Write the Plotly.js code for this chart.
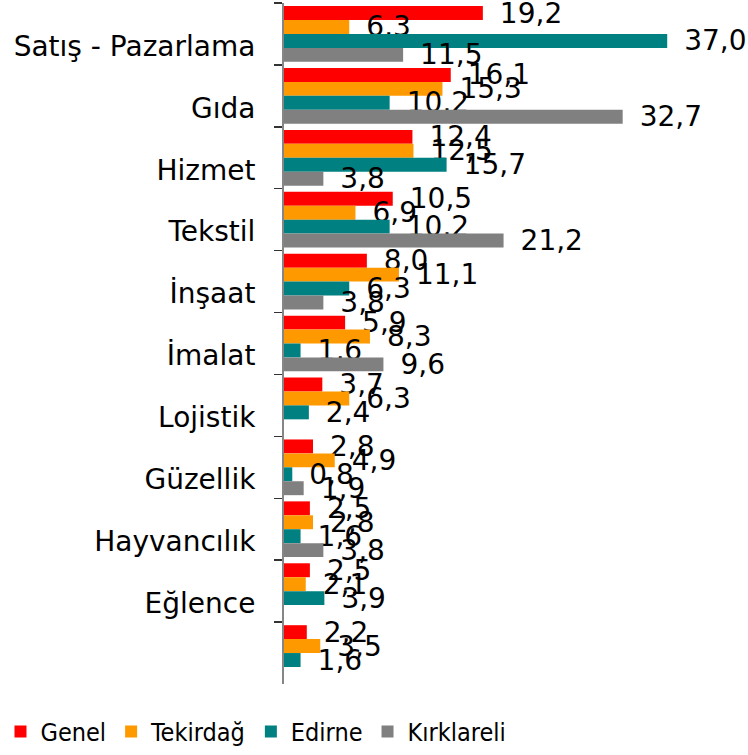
<!DOCTYPE html>
<html>
<head>
<meta charset="utf-8">
<script src="https://cdn.plot.ly/plotly-3.0.1.min.js"></script>
<style>html,body{margin:0;padding:0;background:#fff;}#chart{width:748px;height:755px;}</style>
</head>
<body>
<div id="chart"></div>
<script>
const categories = ["Satış - Pazarlama", "Gıda", "Hizmet", "Tekstil", "İnşaat", "İmalat", "Lojistik", "Güzellik", "Hayvancılık", "Eğlence", "\u00A0"];
const genel      = [19.2, 16.1, 12.4, 10.5, 8.0, 5.9, 3.7, 2.8, 2.5, 2.5, 2.2];
const tekirdag   = [6.3, 15.3, 12.5, 6.9, 11.1, 8.3, 6.3, 4.9, 2.8, 2.1, 3.5];
const edirne     = [37.0, 10.2, 15.7, 10.2, 6.3, 1.6, 2.4, 0.8, 1.6, 3.9, 1.6];
const kirklareli = [11.5, 32.7, 3.8, 21.2, 3.8, 9.6, null, 1.9, 3.8, null, null];
const seriesNames = ["Genel", "Tekirdağ", "Edirne", "Kırklareli"];
const seriesColors = ["#FF0000", "#FF9900", "#008080", "#808080"];
const seriesData = [genel, tekirdag, edirne, kirklareli];

const FONT = "DejaVu Sans, Verdana, sans-serif";
const LABEL = "\u2002%{x:.1f}";

const traces = seriesData.map((vals, i) => ({
  type: "bar",
  orientation: "h",
  name: seriesNames[i],
  y: categories,
  x: vals,
  marker: {color: seriesColors[i]},
  // the first Genel label sits one line lower in the reference
  texttemplate: i === 0 ? vals.map((v, j) => (j === 0 ? "<br>" : "") + LABEL) : LABEL,
  textposition: "outside",
  constraintext: "none",
  cliponaxis: false,
  textfont: {family: FONT, size: 28, color: "#000"},
  hoverinfo: "none"
}));

const layout = {
  width: 748,
  height: 755,
  margin: {l: 284, r: 0, t: 3, b: 67},
  paper_bgcolor: "#fff",
  plot_bgcolor: "#fff",
  separators: ", ",
  barmode: "group",
  bargap: 0.1,
  bargroupgap: 0,
  showlegend: true,
  legend: {
    orientation: "h",
    x: -0.611, xanchor: "left",
    y: -0.07, yanchor: "middle",
    font: {family: "DejaVu Sans Condensed, DejaVu Sans, sans-serif", size: 25, color: "#000"},
    traceorder: "normal",
    itemwidth: 30
  },
  xaxis: {
    range: [0, 44.8],
    showgrid: false,
    zeroline: false,
    showline: false,
    showticklabels: false,
    ticks: ""
  },
  yaxis: {
    type: "category",
    categoryorder: "array",
    categoryarray: categories,
    autorange: "reversed",
    showgrid: false,
    zeroline: false,
    showline: true,
    linecolor: "#868686",
    linewidth: 2,
    ticks: "outside",
    tickson: "boundaries",
    ticklen: 8,
    tickcolor: "#333",
    tickwidth: 1.5,
    ticklabelshift: -12,
    ticklabelstandoff: 21,
    tickfont: {family: FONT, size: 28, color: "#000"}
  }
};

Plotly.newPlot("chart", traces, layout, {displayModeBar: false, staticPlot: true});
</script>
</body>
</html>
